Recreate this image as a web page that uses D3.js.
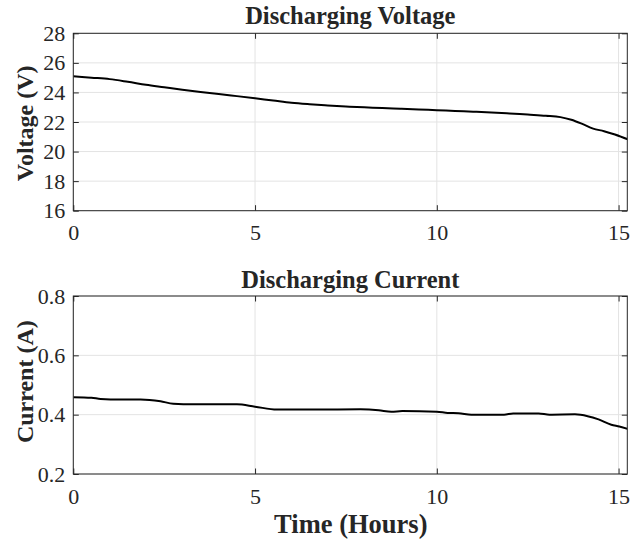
<!DOCTYPE html>
<html>
<head>
<meta charset="utf-8">
<script src="https://cdn.jsdelivr.net/npm/d3@7"></script>
<style>
  html, body { margin: 0; padding: 0; background: #fff; }
  svg { display: block; }
  text { font-family: "Liberation Serif", "Times New Roman", serif; fill: #262626; }
</style>
</head>
<body>
<svg id="chart" width="630" height="541"></svg>
<script>
// Battery discharge test: terminal voltage and load current over time
const voltageTime = [0, 0.5, 1.0, 1.5, 2.0, 2.5, 3.0, 3.5, 4.0, 4.5, 5.0, 5.5, 6.0, 6.5, 7.0, 7.5,
  8.0, 8.5, 9.0, 9.5, 10.0, 10.5, 11.0, 11.5, 12.0, 12.5, 13.0, 13.4, 13.7, 14.0, 14.3, 14.6, 14.9, 15.28];
const voltageValues = [25.1, 25.0, 24.9, 24.72, 24.52, 24.35, 24.18, 24.03, 23.9, 23.75, 23.6, 23.45,
  23.3, 23.2, 23.12, 23.05, 22.99, 22.95, 22.9, 22.85, 22.8, 22.75, 22.7, 22.65, 22.58, 22.5, 22.42,
  22.33, 22.15, 21.87, 21.55, 21.38, 21.15, 20.8];

const currentTime = [0, 0.5, 0.75, 1.3, 1.85, 2.4, 2.75, 3.3, 4.5, 5.0, 5.6, 6.8, 7.9, 8.4, 8.75, 9.05,
  10.0, 10.3, 10.6, 10.95, 11.85, 12.1, 12.8, 13.1, 13.8, 14.15, 14.45, 14.8, 15.02, 15.28];
const currentValues = [0.459, 0.457, 0.453, 0.451, 0.451, 0.445, 0.437, 0.435, 0.435, 0.427, 0.417,
  0.417, 0.418, 0.415, 0.410, 0.412, 0.410, 0.406, 0.405, 0.400, 0.400, 0.404, 0.404, 0.400, 0.401,
  0.395, 0.384, 0.366, 0.360, 0.351];

const timeTicks = [0, 5, 10, 15];
const voltageTicks = [16, 18, 20, 22, 24, 26, 28];
const currentTicks = [0.2, 0.4, 0.6, 0.8];

const svg = d3.select("#chart");
const left = 73.3, right = 627.3;
const tickLen = 5.5;
const serif = '"Liberation Serif", "Times New Roman", serif';

const x = d3.scaleLinear().domain([0, 15.24]).range([left, right]);

function panel(opts) {
  const { top, bottom, yDomain, yTicks, yFormat, title, titleY, ylabel, ylabelY, xs, ys, id } = opts;
  const y = d3.scaleLinear().domain(yDomain).range([bottom, top]);
  const w = right - left, h = bottom - top;
  const g = svg.append("g");

  // grid
  g.append("g").selectAll("line").data(timeTicks).join("line")
    .attr("x1", d => x(d)).attr("x2", d => x(d))
    .attr("y1", top).attr("y2", bottom)
    .attr("stroke", "#e3e3e3").attr("stroke-width", 1);
  g.append("g").selectAll("line").data(yTicks).join("line")
    .attr("x1", left).attr("x2", right)
    .attr("y1", d => y(d)).attr("y2", d => y(d))
    .attr("stroke", "#e3e3e3").attr("stroke-width", 1);

  // data line
  svg.append("defs").append("clipPath").attr("id", id)
    .append("rect").attr("x", left).attr("y", top).attr("width", w).attr("height", h);
  const line = d3.line().x(d => x(d[0])).y(d => y(d[1])).curve(d3.curveMonotoneX);
  g.append("path")
    .datum(xs.map((t, i) => [t, ys[i]]))
    .attr("clip-path", `url(#${id})`)
    .attr("d", line)
    .attr("fill", "none").attr("stroke", "#000").attr("stroke-width", 2)
    .attr("stroke-linejoin", "round");

  // axes with inward ticks
  const axStyle = sel => {
    sel.attr("font-family", serif).attr("font-size", 22);
    sel.select(".domain").remove();
    sel.selectAll(".tick line").attr("stroke", "#262626");
    sel.selectAll(".tick text").attr("fill", "#262626");
  };
  g.append("g").attr("transform", `translate(${left},0)`)
    .call(d3.axisLeft(y).tickValues(yTicks).tickFormat(yFormat).tickSizeInner(-tickLen).tickSizeOuter(0).tickPadding(8))
    .call(axStyle);
  g.append("g").attr("transform", `translate(${right},0)`)
    .call(d3.axisRight(y).tickValues(yTicks).tickFormat("").tickSizeInner(-tickLen).tickSizeOuter(0))
    .call(axStyle);
  g.append("g").attr("transform", `translate(0,${bottom})`)
    .call(d3.axisBottom(x).tickValues(timeTicks).tickFormat(d3.format("d")).tickSizeInner(-tickLen).tickSizeOuter(0).tickPadding(14))
    .call(axStyle);
  g.append("g").attr("transform", `translate(0,${top})`)
    .call(d3.axisTop(x).tickValues(timeTicks).tickFormat("").tickSizeInner(-tickLen).tickSizeOuter(0))
    .call(axStyle);

  // box
  g.append("rect").attr("x", left).attr("y", top).attr("width", w).attr("height", h)
    .attr("fill", "none").attr("stroke", "#262626").attr("stroke-width", 1);

  // title
  g.append("text").attr("x", (left + right) / 2).attr("y", titleY)
    .attr("text-anchor", "middle").attr("font-weight", "bold").attr("font-size", "24.5px")
    .attr("fill", "#000").text(title);

  // y label
  g.append("text").attr("transform", `translate(33,${ylabelY}) rotate(-90)`)
    .attr("text-anchor", "middle").attr("font-weight", "bold").attr("font-size", "24px")
    .attr("fill", "#262626").text(ylabel);
  return g;
}

panel({
  id: "clipV", top: 33.3, bottom: 210.7, yDomain: [16, 28], yTicks: voltageTicks,
  yFormat: d3.format("d"), title: "Discharging Voltage", titleY: 24,
  ylabel: "Voltage (V)", ylabelY: 123.3, xs: voltageTime, ys: voltageValues
});

panel({
  id: "clipI", top: 296, bottom: 474, yDomain: [0.2, 0.8], yTicks: currentTicks,
  yFormat: d3.format(".1f"), title: "Discharging Current", titleY: 288.3,
  ylabel: "Current (A)", ylabelY: 381.7, xs: currentTime, ys: currentValues
});

svg.append("text").attr("x", (left + right) / 2 + 0.5).attr("y", 533)
  .attr("text-anchor", "middle").attr("font-weight", "bold").attr("font-size", "26.5px")
  .attr("fill", "#262626").text("Time (Hours)");
</script>
</body>
</html>
